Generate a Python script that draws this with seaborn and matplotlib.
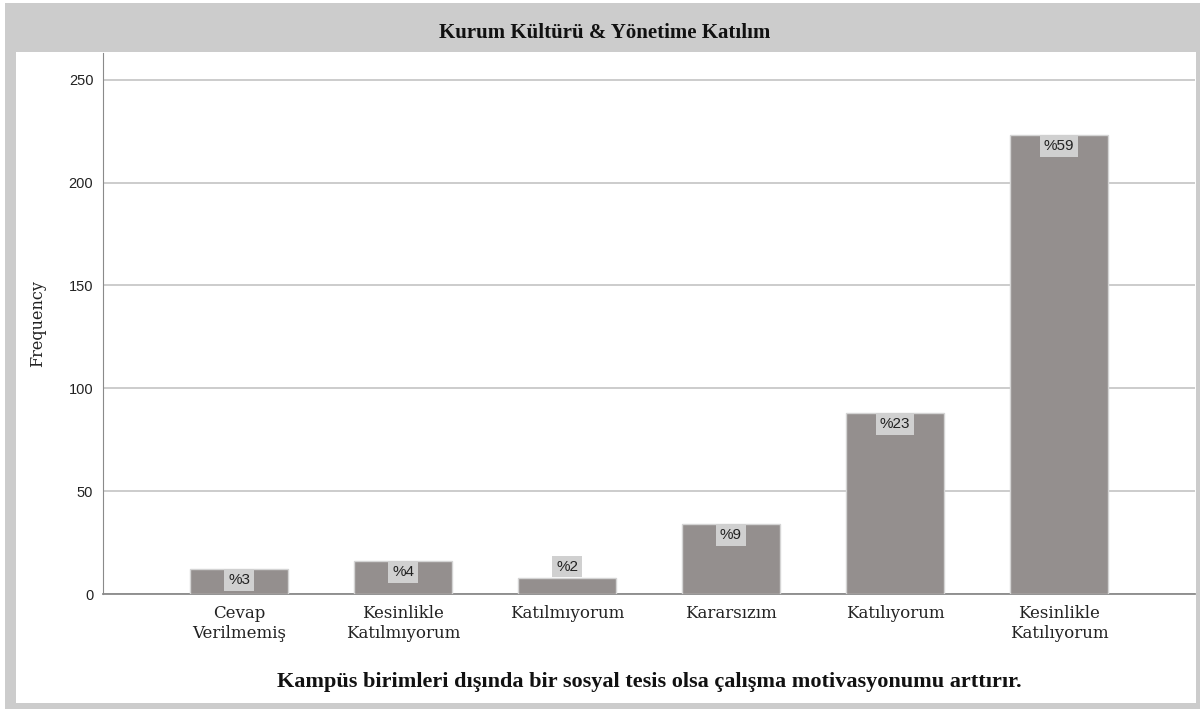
# Bar chart: Kurum Kültürü & Yönetime Katılım (frequency per answer)
import numpy as np
import matplotlib
matplotlib.use("Agg")
import matplotlib.pyplot as plt
from matplotlib.patches import Rectangle
import seaborn as sns

# ── Data ──────────────────────────────────────────────────────────────────────
categories = [
    "Cevap\nVerilmemiş",
    "Kesinlikle\nKatılmıyorum",
    "Katılmıyorum",
    "Kararsızım",
    "Katılıyorum",
    "Kesinlikle\nKatılıyorum",
]
counts = [12, 16, 8, 34, 88, 223]
yticks = [0, 50, 100, 150, 200, 250]

title = "Kurum Kültürü & Yönetime Katılım"
xlabel = "Kampüs birimleri dışında bir sosyal tesis olsa çalışma motivasyonumu arttırır."
ylabel = "Frequency"

BAR_COLOR = "#948f8e"
FRAME_GRAY = "#cccccc"

sns.set_style("white")
plt.rcParams["font.family"] = ["DejaVu Serif"]

W, H = 1203, 709
fig = plt.figure(figsize=(W / 100, H / 100), dpi=100, facecolor="white")


def px_rect(x0, y0, x1, y1, color, z):
    """Rectangle given in image pixels (origin top-left)."""
    fig.patches.append(Rectangle((x0 / W, 1 - y1 / H), (x1 - x0) / W, (y1 - y0) / H,
                                 transform=fig.transFigure, facecolor=color,
                                 edgecolor="none", zorder=z))


# gray frame + white chart panel
px_rect(5, 3, 1200, 709, FRAME_GRAY, -2)
px_rect(16, 52, 1196, 703, "white", -1)

fig.text(605 / W, 1 - 33 / H, title, ha="center", va="center",
         fontsize=15, fontweight="bold", family="Liberation Serif", color="#111111")

ax = fig.add_axes([103 / W, 1 - 594 / H, (1195 - 103) / W, (594 - 53) / H])
ax.set_facecolor("none")

sns.barplot(x=categories, y=counts, color=BAR_COLOR, saturation=1, width=0.6,
            edgecolor="#d4d4d4", linewidth=1, ax=ax, zorder=3)

ax.set_xlim(-0.83, 5.83)
ax.set_ylim(0, 263)
ax.set_yticks(yticks)
ax.yaxis.grid(True, color="#c8c8c8", linewidth=1.3, zorder=0)
ax.set_axisbelow(True)

for side in ["top", "right"]:
    ax.spines[side].set_visible(False)
ax.spines["left"].set_color("#8a8a8a")
ax.spines["bottom"].set_color("#8a8a8a")
ax.spines["bottom"].set_linewidth(1.3)

ax.tick_params(axis="x", length=0, pad=8, labelsize=12, colors="#222222")
ax.tick_params(axis="y", length=0, pad=7)
for lab in ax.get_yticklabels():
    lab.set_family("Liberation Sans")
    lab.set_fontsize(10.5)
    lab.set_color("#222222")

ax.set_xlabel(xlabel, fontsize=16, fontweight="bold", family="Liberation Serif",
              color="#111111", labelpad=22)
ax.set_ylabel(ylabel, fontsize=11.5, color="#222222", labelpad=16)

# percentage labels
total = sum(counts)
for i, c in enumerate(counts):
    pct = f"%{round(100 * c / total)}"
    inside = c >= 10
    ax.annotate(pct, (i, c), xytext=(0, -2.8 if inside else 2.8),
                textcoords="offset points", ha="center",
                va="top" if inside else "bottom",
                fontsize=11, family="Liberation Sans", color="#222222",
                bbox=dict(boxstyle="square,pad=0.25", facecolor="#d0d0d0",
                          edgecolor="none"), zorder=5)

fig.savefig("out.png", dpi=100, facecolor="white")
